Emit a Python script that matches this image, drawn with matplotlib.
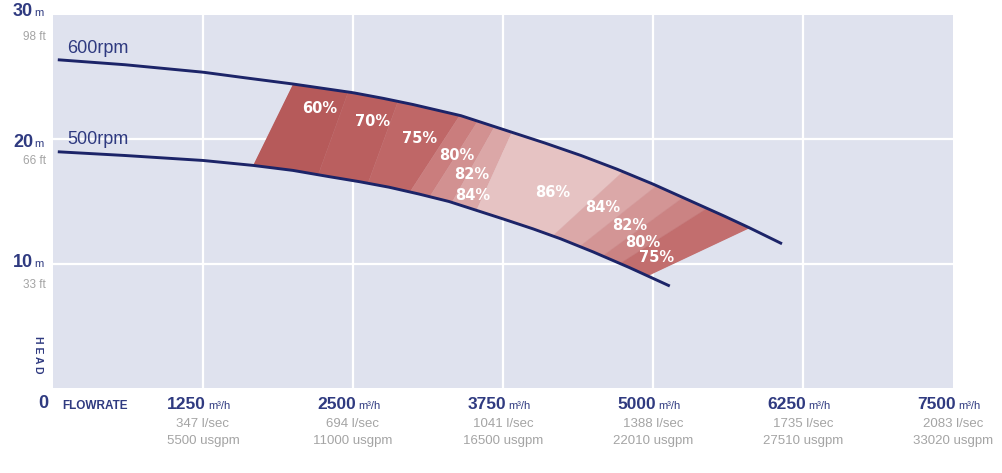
import numpy as np
import matplotlib
matplotlib.use("Agg")
import matplotlib.pyplot as plt
from matplotlib.patches import Polygon

# ── data ─────────────────────────────────────────────────────────────────────
# pump curves: flow (m3/h) vs head (m)
rpm600_q = [40, 600, 1250, 1600, 2000, 2250, 2500, 2750, 3000, 3200, 3400,
            3575, 3750, 4100, 4400, 4700, 5000, 5300, 5600, 5800, 6075]
rpm600_h = [26.4, 26.0, 25.4, 24.95, 24.45, 24.1, 23.75, 23.3, 22.8, 22.35,
            21.9, 21.35, 20.8, 19.7, 18.7, 17.6, 16.4, 15.1, 13.8, 12.9, 11.6]
rpm500_q = [40, 600, 1250, 1670, 2000, 2300, 2550, 2800, 3050, 3300, 3525,
            3750, 4000, 4230, 4500, 4800, 5140]
rpm500_h = [19.0, 18.7, 18.3, 17.9, 17.5, 17.0, 16.6, 16.15, 15.6, 15.0, 14.3,
            13.6, 12.8, 12.0, 10.95, 9.7, 8.2]

# efficiency band edges: flow where each edge meets the 600 / 500 rpm curves
edge_top_q = [2000, 2460, 2875, 3390, 3540, 3680, 3825, 4750, 5030, 5250, 5450, 5808]
edge_bot_q = [1667, 2210, 2625, 2975, 3140, 3325, 3530, 4165, 4390, 4580, 4725, 4958]
band_eff = [60, 70, 75, 80, 82, 84, 86, 84, 82, 80, 75]
band_col = ["#b65a5a", "#ba5f5f", "#bf6767", "#ca7d7d", "#d29191", "#dba7a7",
            "#e6c3c3", "#dba8a8", "#d39595", "#cb8383", "#c26e6e"]

# efficiency labels (flow, head)
eff_lbl = ["60%", "70%", "75%", "80%", "82%", "84%", "86%", "84%", "82%", "80%", "75%"]
eff_q = [2225, 2667, 3058, 3367, 3492, 3500, 4167, 4583, 4808, 4917, 5033]
eff_h = [22.5, 21.4, 20.1, 18.7, 17.2, 15.5, 15.7, 14.5, 13.1, 11.7, 10.5]

# axis labels
x_ticks = [1250, 2500, 3750, 5000, 6250, 7500]
x_lsec = ["347 l/sec", "694 l/sec", "1041 l/sec", "1388 l/sec", "1735 l/sec", "2083 l/sec"]
x_usgpm = ["5500 usgpm", "11000 usgpm", "16500 usgpm", "22010 usgpm", "27510 usgpm", "33020 usgpm"]
y_ticks = [30, 20, 10]
y_ft = ["98 ft", "66 ft", "33 ft"]

NAVY = "#1c2468"
TXT = "#2f3a80"
GREY = "#a4a4a4"
SANS = ["Liberation Sans", "DejaVu Sans"]

# ── figure ───────────────────────────────────────────────────────────────────
fig = plt.figure(figsize=(10.02, 4.73), dpi=100)
ax = fig.add_axes([53 / 1002, 85 / 473, 900 / 1002, 373 / 473])
ax.set_facecolor("#dfe2ee")
ax.set_xlim(0, 7500)
ax.set_ylim(0, 30)
for s in ax.spines.values():
    s.set_visible(False)
ax.set_xticks([])
ax.set_yticks([])
for q in x_ticks[:-1]:
    ax.axvline(q, color="white", lw=1.6, zorder=1)
for h in [10, 20]:
    ax.axhline(h, color="white", lw=1.6, zorder=1)

# region between the curves, used as clip path for the bands
up_q = np.array(rpm600_q)
lo_q = np.array(rpm500_q)
mu = (up_q > edge_top_q[0]) & (up_q < edge_top_q[-1])
ml = (lo_q > edge_bot_q[0]) & (lo_q < edge_bot_q[-1])
top_pts = [(edge_top_q[0], np.interp(edge_top_q[0], rpm600_q, rpm600_h))]
top_pts += list(zip(up_q[mu], np.array(rpm600_h)[mu]))
top_pts += [(edge_top_q[-1], np.interp(edge_top_q[-1], rpm600_q, rpm600_h))]
bot_pts = [(edge_bot_q[0], np.interp(edge_bot_q[0], rpm500_q, rpm500_h))]
bot_pts += list(zip(lo_q[ml], np.array(rpm500_h)[ml]))
bot_pts += [(edge_bot_q[-1], np.interp(edge_bot_q[-1], rpm500_q, rpm500_h))]
region = Polygon(top_pts + bot_pts[::-1], closed=True, facecolor="none",
                 edgecolor="none", transform=ax.transData)
ax.add_patch(region)

def edge_line(i, ext=0.6):
    qt, qb = edge_top_q[i], edge_bot_q[i]
    ht = np.interp(qt, rpm600_q, rpm600_h)
    hb = np.interp(qb, rpm500_q, rpm500_h)
    p0 = (qt + ext * (qt - qb), ht + ext * (ht - hb))
    p1 = (qb - ext * (qt - qb), hb - ext * (ht - hb))
    return p0, p1

for i, col in enumerate(band_col):
    a0, a1 = edge_line(i)
    b0, b1 = edge_line(i + 1)
    poly = Polygon([a0, b0, b1, a1], closed=True, facecolor=col,
                   edgecolor=col, lw=0.3, zorder=2)
    ax.add_patch(poly)
    poly.set_clip_path(region)

ax.plot(rpm600_q, rpm600_h, color=NAVY, lw=2.1, zorder=3,
        solid_capstyle="butt", solid_joinstyle="round")
ax.plot(rpm500_q, rpm500_h, color=NAVY, lw=2.1, zorder=3,
        solid_capstyle="butt", solid_joinstyle="round")

for t, q, h in zip(eff_lbl, eff_q, eff_h):
    ax.text(q, h, t, color="white", fontsize=10.5, fontweight="bold",
            ha="center", va="center", zorder=4)

ax.text(117, 27.3, "600rpm", color=TXT, fontsize=13, ha="left", va="center",
        family=SANS)
ax.text(117, 20.0, "500rpm", color=TXT, fontsize=13, ha="left", va="center",
        family=SANS)

# ── outer labels (figure pixel coordinates) ──────────────────────────────────
def fx(px):
    return px / 1002

def fy(py):
    return 1 - py / 473

y_centers = [11, 142, 262]
ft_centers = [37, 161, 285]
for v, ft, yc, yf in zip(y_ticks, y_ft, y_centers, ft_centers):
    fig.text(fx(33), fy(yc), str(v), color=TXT, fontsize=13, ha="right",
             va="center", family=SANS, fontweight="bold")
    fig.text(fx(34), fy(yc + 2), "m", color=TXT, fontsize=8, ha="left",
             va="center", family=SANS)
    fig.text(fx(46), fy(yf), ft, color=GREY, fontsize=8.5, ha="right",
             va="center", family=SANS)

fig.text(fx(38), fy(355), "H E A D", color=TXT, fontsize=7.5, fontweight="bold",
         rotation=270, ha="center", va="center", family=SANS)
fig.text(fx(43), fy(403), "0", color=TXT, fontsize=13, ha="center",
         va="center", family=SANS, fontweight="bold")
fig.text(fx(62), fy(406), "FLOWRATE", color=TXT, fontsize=8.5,
         fontweight="bold", ha="left", va="center", family=SANS)

for q, ls, us in zip(x_ticks, x_lsec, x_usgpm):
    px = 53 + q / 1250 * 150
    fig.text(fx(px + 3), fy(404), str(q), color=TXT, fontsize=12.5,
             ha="right", va="center", family=SANS, fontweight="bold")
    fig.text(fx(px + 5), fy(406), "m\u00b3/h", color=TXT, fontsize=8,
             ha="left", va="center", family=SANS)
    fig.text(fx(px), fy(424), ls, color=GREY, fontsize=9.5, ha="center",
             va="center", family=SANS)
    fig.text(fx(px), fy(441), us, color=GREY, fontsize=9.5, ha="center",
             va="center", family=SANS)

fig.savefig("out.png", dpi=100, facecolor="white")
